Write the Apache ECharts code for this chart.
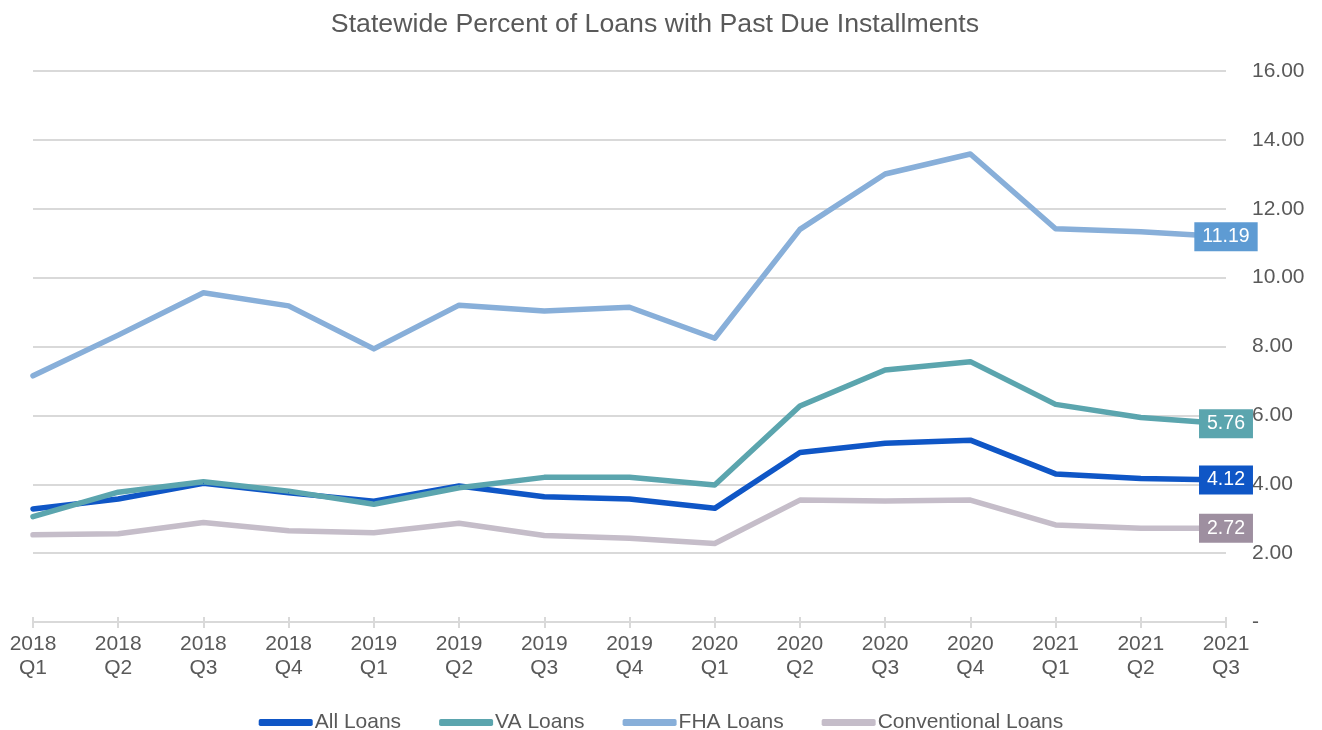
<!DOCTYPE html>
<html>
<head>
<meta charset="utf-8">
<script src="https://cdn.jsdelivr.net/npm/echarts@6/dist/echarts.min.js"></script>
<style>
html,body{margin:0;padding:0;background:#fff;}
#chart{width:1322px;height:730px;}
</style>
</head>
<body>
<div id="chart"></div>
<script>
const categories = ['2018\nQ1','2018\nQ2','2018\nQ3','2018\nQ4','2019\nQ1','2019\nQ2','2019\nQ3','2019\nQ4','2020\nQ1','2020\nQ2','2020\nQ3','2020\nQ4','2021\nQ1','2021\nQ2','2021\nQ3'];
const allLoans = [3.28, 3.57, 4.03, 3.75, 3.51, 3.95, 3.64, 3.57, 3.30, 4.92, 5.19, 5.28, 4.30, 4.17, 4.12];
const vaLoans = [3.06, 3.77, 4.07, 3.80, 3.42, 3.90, 4.20, 4.20, 3.98, 6.27, 7.32, 7.56, 6.32, 5.94, 5.76];
const fhaLoans = [7.15, 8.33, 9.56, 9.18, 7.93, 9.20, 9.03, 9.14, 8.24, 11.40, 13.01, 13.59, 11.42, 11.33, 11.19];
const convLoans = [2.53, 2.56, 2.89, 2.65, 2.59, 2.87, 2.51, 2.43, 2.28, 3.54, 3.51, 3.54, 2.82, 2.72, 2.72];
const yTicks = {min: 0, max: 16, interval: 2};

const FONT = '"Liberation Sans", Arial, sans-serif';
const TXT = '#595959';

function mkSeries(name, values, lineColor, boxColor) {
  const last = values.length - 1;
  return {
    name: name,
    type: 'line',
    symbol: 'circle',
    symbolSize: 1,
    showSymbol: true,
    showAllSymbol: true,
    lineStyle: {width: 5.5, color: lineColor, cap: 'round', join: 'round'},
    itemStyle: {color: lineColor, borderWidth: 0},
    emphasis: {disabled: true},
    z: 3,
    label: {show: false},
    data: values.map((v, i) => i === last ? {
      value: v,
      label: {
        show: true, position: 'inside',
        formatter: (p) => Number(p.value).toFixed(2),
        color: '#ffffff', fontFamily: FONT, fontSize: 19.5,
        backgroundColor: boxColor, padding: [5, 8, 4, 8], lineHeight: 20
      }
    } : v),
    labelLayout: {moveOverlap: false, hideOverlap: false}
  };
}

const chart = echarts.init(document.getElementById('chart'), null, {renderer: 'canvas'});
chart.setOption({
  animation: false,
  backgroundColor: '#ffffff',
  title: {
    text: 'Statewide Percent of Loans with Past Due Installments',
    left: 650, textAlign: 'center', top: 6,
    textStyle: {fontFamily: FONT, fontSize: 26.7, fontWeight: 'normal', color: TXT}
  },
  legend: {
    top: 707, left: 'center',
    itemWidth: 54, itemHeight: 7, itemGap: 38,
    icon: 'roundRect',
    textStyle: {fontFamily: FONT, fontSize: 21, color: TXT, padding: [0, 0, 0, -3]},
    data: ['All Loans', 'VA Loans', 'FHA Loans', 'Conventional Loans']
  },
  grid: {left: 33, right: 96, top: 71, bottom: 108, containLabel: false},
  xAxis: [{
    type: 'category',
    data: categories,
    boundaryGap: false,
    axisLine: {lineStyle: {color: '#D9D9D9', width: 2}},
    axisTick: {show: true, length: 6, lineStyle: {color: '#D9D9D9', width: 2}},
    axisLabel: {fontFamily: FONT, fontSize: 21, color: TXT, lineHeight: 24, margin: 10, interval: 0},
    splitLine: {show: false}
  }, {
    type: 'category',
    data: categories,
    boundaryGap: false,
    position: 'bottom',
    axisLine: {show: false},
    axisTick: {show: true, inside: true, length: 5, lineStyle: {color: '#D9D9D9', width: 2}},
    axisLabel: {show: false},
    splitLine: {show: false}
  }],
  yAxis: {
    type: 'value',
    position: 'right',
    min: yTicks.min, max: yTicks.max, interval: yTicks.interval,
    axisLine: {show: false},
    axisTick: {show: false},
    axisLabel: {
      fontFamily: FONT, fontSize: 21, color: TXT, margin: 26, align: 'left',
      formatter: (v) => v === 0 ? '-' : v.toFixed(2)
    },
    splitLine: {lineStyle: {color: '#D9D9D9', width: 2}}
  },
  series: [
    mkSeries('All Loans', allLoans, '#0F56C6', '#0F56C6'),
    mkSeries('VA Loans', vaLoans, '#5BA5AE', '#5BA5AE'),
    mkSeries('FHA Loans', fhaLoans, '#88AFD9', '#5E9BD3'),
    mkSeries('Conventional Loans', convLoans, '#C5BDC9', '#9E8FA0')
  ]
});
</script>
</body>
</html>
